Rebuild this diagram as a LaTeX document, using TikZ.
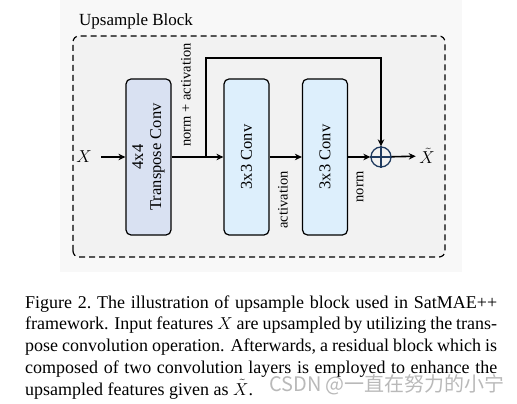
\documentclass[tikz,border=0pt]{standalone}
\usepackage{fontspec}
\setmainfont{Liberation Serif}
\newfontfamily\cjkfont{Noto Sans CJK SC}
\usepackage{tikz}
\usetikzlibrary{arrows.meta,positioning,calc}
\definecolor{clPanel}{HTML}{F8F8F8}
\definecolor{clBlock}{HTML}{F2F2F2}
\definecolor{clTrans}{HTML}{D9E1F2}
\definecolor{clConv}{HTML}{DDEFFC}
\definecolor{clSum}{HTML}{1F3A5F}
\tikzset{
  layer/.style={rectangle, rounded corners=5pt, draw, line width=1.2pt, align=center,
                rotate=90, minimum width=156pt, minimum height=45pt, inner sep=0pt,
                font=\fontsize{16.5}{18}\selectfont},
  transpose/.style={layer, fill=clTrans},
  conv/.style={layer, fill=clConv},
  sumnode/.style={circle, draw=clSum, line width=1.3pt, minimum size=20pt, inner sep=0pt},
  flow/.style={-{Stealth[length=7pt,width=6.5pt]}, line width=1.6pt},
  flowlabel/.style={font=\fontsize{14.5}{16}\selectfont, rotate=90, inner sep=0pt},
}

\begin{document}
\begin{tikzpicture}[x=1pt, y=1pt, every node/.style={font=\fontsize{17}{19}\selectfont}]
  \useasboundingbox (0,0) rectangle (517,404);
  \fill[clPanel] (60,132) rectangle (462,404);
  \draw[dash pattern=on 6pt off 4pt, line width=1.2pt, rounded corners=6pt, fill=clBlock]
    (73,147) rectangle (445,368);
  \node[anchor=base west, inner sep=0pt, font=\fontsize{17}{19}\selectfont] (title) at (79,378) {Upsample Block};

  \node[transpose] (tconv) at (148.5,247) {4x4\\Transpose Conv};
  \node[conv] (conv1) at (246.5,247) {3x3 Conv};
  \node[conv] (conv2) at (325,247) {3x3 Conv};
  \node[sumnode] (sum) at (381,247) {};
  \draw[clSum, line width=1.3pt] (sum.north) -- (sum.south) (sum.west) -- (sum.east);
  \node (xin) at (84,247) {$X$};
  \node (xout) at (427,248) {$\tilde{X}$};
  \coordinate (split) at (206,247);
  \coordinate (top) at (381,346);

  \draw[flow] ([xshift=6pt]xin.east) -- (tconv);
  \draw[flow] (tconv) -- (conv1);
  \draw[flow] (split) |- (top) -- (sum);
  \draw[flow] (conv1) -- (conv2);
  \draw[flow] (conv2) -- (sum);
  \draw[flow] (sum) -- (xout);

  \node[flowlabel] (lnormact) at (186,309) {norm + activation};
  \node[flowlabel] (lact) at (283,204) {activation};
  \node[flowlabel] (lnorm) at (360,217) {norm};

  \node[anchor=north west, text width=472pt, align=justify, inner sep=0pt,
        font=\fontsize{18}{21.75}\selectfont] (caption) at (25,111.2)
    {\strut Figure 2.\ The illustration of upsample block used in SatMAE++\linebreak
     framework. Input features $X$ are upsampled by utilizing the trans-\linebreak
     pose convolution operation. Afterwards, a residual block which is\linebreak
     composed of two convolution layers is employed to enhance the\linebreak
     upsampled features given as $\tilde{X}$.};
  \node[inner sep=0pt, text=gray!55, font=\cjkfont\fontsize{20}{22}\selectfont] (mark) at (387,19)
    {CSDN @一直在努力的小宁};
\end{tikzpicture}
\end{document}
